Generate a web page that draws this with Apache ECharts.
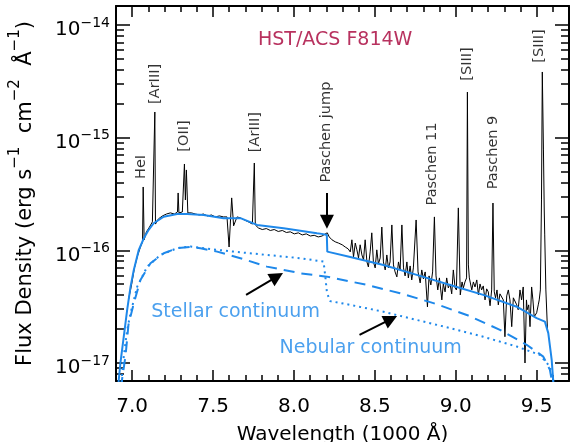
<!DOCTYPE html>
<html>
<head>
<meta charset="utf-8">
<script src="https://cdn.jsdelivr.net/npm/echarts@6/dist/echarts.min.js"></script>
<style>
html, body { margin: 0; padding: 0; background: #fff; }
#chart { width: 572px; height: 442px; }
</style>
</head>
<body>
<div id="chart"></div>
<script>
// flux in units of 1e-16 erg s-1 cm-2 A-1, wavelength in 1000 A
var observed = [
  [6.977,0.363],[6.996,0.493],[7.014,0.698],[7.033,0.892],[7.051,1.07],[7.064,1.19],[7.068,3.65],[7.074,1.24],
  [7.088,1.46],[7.107,1.61],[7.125,1.79],[7.136,1.79],[7.140,16.9],[7.144,1.71],[7.162,1.90],[7.187,2.02],
  [7.212,2.10],[7.236,2.15],[7.261,2.10],[7.280,2.19],[7.284,3.23],[7.289,2.15],[7.310,2.19],[7.323,5.84],
  [7.329,2.80],[7.335,5.17],[7.344,2.15],[7.366,2.15],[7.391,2.10],[7.415,2.06],[7.440,2.10],[7.465,2.02],
  [7.490,2.06],[7.514,1.98],[7.539,2.02],[7.564,1.98],[7.586,1.98],[7.599,1.07],[7.615,2.92],[7.627,1.65],
  [7.648,1.98],[7.669,1.94],[7.693,1.86],[7.718,1.79],[7.743,1.71],[7.752,1.68],[7.755,5.96],[7.761,1.68],
  [7.780,1.58],[7.804,1.53],[7.829,1.56],[7.854,1.50],[7.878,1.53],[7.903,1.47],[7.928,1.50],[7.953,1.44],
  [7.977,1.46],[8.002,1.40],[8.027,1.43],[8.051,1.37],[8.076,1.40],[8.101,1.34],[8.125,1.36],[8.150,1.315],
  [8.174,1.34],[8.193,1.40],[8.206,1.43],[8.218,1.315],[8.235,1.24],[8.255,1.19],[8.275,1.16],[8.298,1.12],
  [8.317,1.07],[8.335,1.03],[8.348,0.968],[8.358,1.24],[8.368,0.874],[8.379,1.16],[8.389,1.01],[8.399,0.856],
  [8.409,1.12],[8.420,0.910],[8.430,0.822],[8.440,1.24],[8.451,0.789],[8.460,0.712],[8.471,0.968],[8.481,1.43],
  [8.491,0.789],[8.502,0.698],[8.512,1.01],[8.522,0.758],[8.533,0.856],[8.543,1.61],[8.553,0.789],[8.564,0.670],
  [8.574,0.910],[8.584,0.698],[8.594,0.789],[8.605,1.68],[8.615,0.742],[8.625,0.643],[8.636,0.581],[8.646,0.789],
  [8.656,0.670],[8.667,1.68],[8.677,0.698],[8.687,0.593],[8.698,0.789],[8.707,0.569],[8.718,0.727],[8.728,0.546],
  [8.738,0.698],[8.755,1.86],[8.767,0.643],[8.780,0.514],[8.790,0.670],[8.800,0.558],[8.811,0.643],[8.825,0.315],
  [8.835,0.593],[8.846,0.493],[8.857,0.643],[8.868,1.98],[8.878,0.593],[8.889,0.445],[8.899,0.569],[8.914,0.363],
  [8.923,0.503],[8.934,0.428],[8.944,0.569],[8.954,0.464],[8.965,0.503],[8.975,0.411],[8.985,0.670],[8.996,0.464],
  [9.004,0.445],[9.016,2.38],[9.028,0.402],[9.039,0.524],[9.047,0.464],[9.057,0.524],[9.067,0.569],[9.072,25.4],
  [9.078,0.742],[9.084,0.569],[9.099,0.445],[9.109,0.524],[9.119,0.473],[9.130,0.546],[9.140,0.402],[9.150,0.503],
  [9.160,0.445],[9.170,0.483],[9.181,0.363],[9.191,0.455],[9.201,0.428],[9.212,0.322],[9.222,0.445],[9.230,2.63],
  [9.238,0.428],[9.246,0.379],[9.255,0.445],[9.263,0.328],[9.273,0.411],[9.284,0.419],[9.294,0.363],[9.304,0.171],
  [9.315,0.394],[9.325,0.445],[9.335,0.363],[9.346,0.210],[9.356,0.379],[9.366,0.386],[9.377,0.328],[9.386,0.297],
  [9.397,0.445],[9.407,0.363],[9.417,0.473],[9.428,0.100],[9.437,0.363],[9.442,0.297],[9.451,0.328],[9.459,0.210],
  [9.469,0.473],[9.477,0.363],[9.485,0.257],[9.500,0.279],[9.510,0.328],[9.516,0.363],[9.523,0.445],[9.530,2.80],
  [9.535,38.3],[9.542,7.78],[9.547,2.28],[9.550,1.37],[9.557,0.445],[9.567,0.197]
];

// total model (stellar + nebular)
var totalModel = [
  [6.914,0.06],[6.917,0.0708],[6.927,0.099],[6.948,0.171],[6.969,0.296],[6.990,0.476],[7.010,0.670],[7.041,1.01],
  [7.072,1.28],[7.102,1.52],[7.133,1.74],[7.195,1.99],[7.278,2.10],[7.340,2.10],[7.442,2.06],[7.565,1.93],
  [7.669,1.93],[7.772,1.68],[7.936,1.57],[8.142,1.42],[8.172,1.40],[8.203,1.37],[8.206,0.974],[8.348,0.874],
  [8.553,0.742],[8.759,0.605],[8.965,0.493],[9.170,0.402],[9.377,0.316],[9.500,0.250],[9.551,0.233],[9.572,0.184],
  [9.593,0.1065],[9.602,0.0708],[9.605,0.06]
];

var stellar = [
  [6.935,0.06],[6.937,0.0708],[6.959,0.116],[6.977,0.218],[7.010,0.339],[7.051,0.546],[7.113,0.768],[7.195,0.942],
  [7.278,1.044],[7.360,1.07],[7.422,1.044],[7.525,0.974],[7.669,0.851],[7.833,0.717],[8.039,0.626],[8.204,0.584],
  [8.451,0.493],[8.656,0.416],[8.862,0.340],[9.068,0.267],[9.273,0.197],[9.438,0.145],[9.541,0.114],[9.582,0.0868],
  [9.593,0.0708],[9.595,0.06]
];

var nebular = [
  [6.933,0.06],[6.935,0.0708],[6.948,0.114],[6.969,0.197],[6.990,0.277],[7.031,0.476],[7.093,0.717],[7.175,0.910],
  [7.278,1.044],[7.360,1.08],[7.525,1.01],[7.627,0.974],[7.833,0.910],[8.039,0.851],[8.183,0.794],[8.194,0.581],
  [8.204,0.419],[8.224,0.354],[8.348,0.328],[8.553,0.285],[8.759,0.241],[8.965,0.204],[9.170,0.171],[9.377,0.140],
  [9.520,0.118],[9.582,0.093],[9.602,0.0708],[9.604,0.06]
];

var lineLabels = [
  ['HeI', 7.057, 5.50], ['[ArIII]', 7.141, 30.0], ['[OII]', 7.323, 10.35], ['[ArIII]', 7.761, 11.2],
  ['Paschen jump', 8.202, 11.2], ['Paschen 11', 8.857, 5.84], ['[SIII]', 9.073, 45.1],
  ['Paschen 9', 9.230, 7.39], ['[SIII]', 9.517, 65.1]
];
var contLabels = [['Stellar continuum', 7.639, 0.284], ['Nebular continuum', 8.474, 0.136]];
var arrows = [
  [[7.704, 0.402], [7.895, 0.585]],
  [[8.405, 0.1776], [8.599, 0.2446]],
  [[8.204, 3.23], [8.204, 1.79]]
];

var xMajor = [7.0, 7.5, 8.0, 8.5, 9.0, 9.5];
var xMinor = [7.1, 7.2, 7.3, 7.4, 7.6, 7.7, 7.8, 7.9, 8.1, 8.2, 8.3, 8.4, 8.6, 8.7, 8.8, 8.9, 9.1, 9.2, 9.3, 9.4, 9.6];
var yMajor = [0.1, 1, 10, 100];
var yMinor = [0.08, 0.09, 0.2, 0.3, 0.4, 0.5, 0.6, 0.7, 0.8, 0.9, 2, 3, 4, 5, 6, 7, 8, 9, 20, 30, 40, 50, 60, 70, 80, 90];

var X_MIN = 6.9, X_MAX = 9.7;
var Y_MIN = 0.0692, Y_MAX = 147.5;
var BLUE = '#1e88ea';
var FONT = 'DejaVu Sans';

function xAxisCfg(pos, ticks, len, main) {
  return {
    type: 'value', position: pos, min: X_MIN, max: X_MAX,
    axisLine: { show: main, onZero: false, lineStyle: { color: '#000', width: 2 } },
    axisTick: { show: true, inside: true, length: len, customValues: ticks, lineStyle: { color: '#000', width: 1.5 } },
    axisLabel: { show: false },
    splitLine: { show: false }
  };
}
function yAxisCfg(pos, ticks, len, main) {
  return {
    type: 'log', logBase: 10, position: pos, min: Y_MIN, max: Y_MAX,
    axisLine: { show: main, onZero: false, lineStyle: { color: '#000', width: 2 } },
    axisTick: { show: true, inside: true, length: len, customValues: ticks, lineStyle: { color: '#000', width: 1.5 } },
    axisLabel: { show: false },
    splitLine: { show: false }
  };
}

var xBottom = xAxisCfg('bottom', xMajor, 11, true);
xBottom.axisLabel = {
  show: true, customValues: xMajor, margin: 16, fontSize: 20, color: '#000', fontFamily: FONT,
  formatter: function (v) { return v.toFixed(1); }
};
xBottom.name = 'Wavelength (1000 Å)';
xBottom.nameLocation = 'middle';
xBottom.nameGap = 44;
xBottom.nameTextStyle = { fontSize: 20, color: '#000', fontFamily: FONT };

var yLeft = yAxisCfg('left', yMajor, 14, true);
yLeft.axisLabel = {
  show: true, customValues: yMajor, margin: 6,
  formatter: function (v) {
    var e = Math.round(Math.log10(v)) - 16;
    return '{b|10}{s|' + (e < 0 ? '\u2212' : '') + Math.abs(e) + '}';
  },
  rich: {
    b: { fontSize: 20, color: '#000', fontFamily: FONT, lineHeight: 30, verticalAlign: 'bottom' },
    s: { fontSize: 14, color: '#000', fontFamily: FONT, lineHeight: 14, padding: [6, 0, 0, 0], verticalAlign: 'top' }
  }
};
yLeft.name = '{a|Flux Density (erg s}{s|\u22121}{a|  cm}{s|\u22122}{a|  Å}{s|\u22121}{a|)}';
yLeft.nameLocation = 'middle';
yLeft.nameGap = 80;
yLeft.nameRotate = 90;
yLeft.nameTextStyle = {
  rich: {
    a: { fontSize: 21, color: '#000', fontFamily: FONT, lineHeight: 28, verticalAlign: 'bottom' },
    s: { fontSize: 15, color: '#000', fontFamily: FONT, lineHeight: 16, verticalAlign: 'top' }
  }
};

var chart = echarts.init(document.getElementById('chart'), null, { renderer: 'canvas' });
var option = {
  animation: false,
  textStyle: { fontFamily: FONT },
  title: {
    text: 'HST/ACS F814W', left: 253, top: 26,
    textStyle: { color: '#b8325f', fontSize: 19, fontWeight: 'normal', fontFamily: FONT }
  },
  grid: { left: 116, right: 3, top: 6, bottom: 61, containLabel: false, outerBoundsMode: 'none' },
  xAxis: [
    xBottom,
    xAxisCfg('bottom', xMinor, 6, false),
    xAxisCfg('top', xMajor, 11, true),
    xAxisCfg('top', xMinor, 6, false)
  ],
  yAxis: [
    yLeft,
    yAxisCfg('left', yMinor, 8, false),
    yAxisCfg('right', yMajor, 14, true),
    yAxisCfg('right', yMinor, 8, false)
  ],
  series: [
    {
      type: 'line', name: 'observed', data: observed, symbol: 'none', z: 2,
      lineStyle: { color: '#000', width: 1 }
    },
    {
      type: 'line', name: 'total', data: totalModel, symbol: 'none', z: 3,
      lineStyle: { color: BLUE, width: 2 }
    },
    {
      type: 'line', name: 'stellar', data: stellar, symbol: 'none', z: 3,
      lineStyle: { color: BLUE, width: 2, type: [11, 7] }
    },
    {
      type: 'line', name: 'nebular', data: nebular, symbol: 'none', z: 3,
      lineStyle: { color: BLUE, width: 2, type: [2, 4] }
    },
    {
      type: 'scatter', name: 'lineLabels', symbolSize: 0, z: 5, silent: true,
      data: lineLabels.map(function (d) { return { name: d[0], value: [d[1], d[2]] }; }),
      label: {
        show: true, position: 'inside', rotate: 90, formatter: '{b}',
        fontSize: 14.5, color: '#000', fontFamily: FONT
      }
    },
    {
      type: 'scatter', name: 'contLabels', symbolSize: 0, z: 5, silent: true,
      data: contLabels.map(function (d) { return { name: d[0], value: [d[1], d[2]] }; }),
      label: {
        show: true, position: 'inside', formatter: '{b}',
        fontSize: 19, color: BLUE, fontFamily: FONT
      },
      markLine: {
        silent: true, symbol: ['none', 'triangle'], symbolSize: 14,
        label: { show: false },
        lineStyle: { color: '#000', width: 2, type: 'solid' },
        data: arrows.map(function (a) {
          return [{ coord: a[0] }, { coord: a[1] }];
        })
      }
    }
  ]
};
chart.setOption(option);
</script>
</body>
</html>
